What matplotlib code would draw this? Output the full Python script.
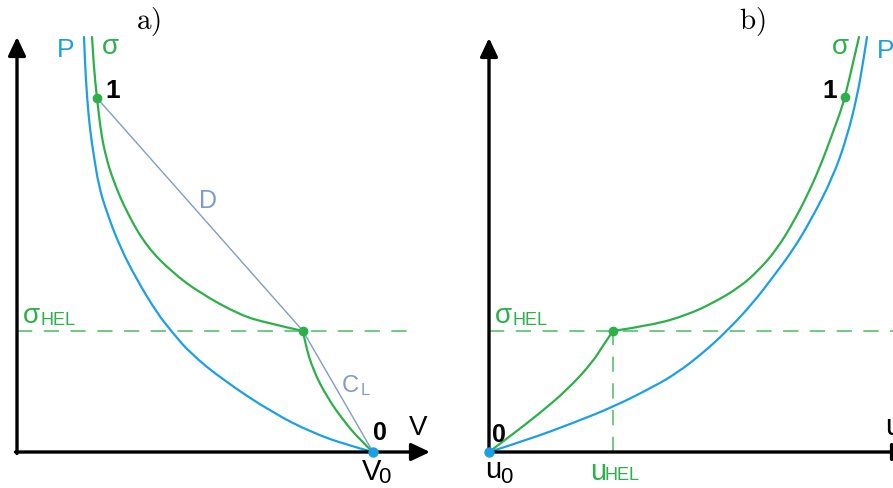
import matplotlib
matplotlib.use('Agg')
import matplotlib.pyplot as plt
from matplotlib.path import Path
from matplotlib.patches import PathPatch

plt.rcParams.update({
    'font.family': ['Liberation Sans', 'DejaVu Sans'],
    'mathtext.fontset': 'cm',
})

# ── colours ──────────────────────────────────────────────────────────────────
BLUE  = '#1ba0e6'
GREEN = '#2bb04a'
GREY  = '#7f9ccb'

# ── data (schematic; origin = axis corner) ───────────────────────────────────
# panel a) : stress vs specific volume
p_a_x     = [67, 68, 70, 73, 77, 82, 90, 103, 120, 140, 155, 173, 206, 256, 296, 330, 356]
p_a_y     = [415, 389, 355, 322, 295, 265, 239, 205, 172, 139, 120, 99, 72, 39, 19, 7, 0]
# plastic branch (point 1 down to HEL) and elastic precursor (HEL to 0)
sig_a_hi_x = [75, 77, 80, 84, 89, 96, 110, 130, 156, 183, 223, 250, 286]
sig_a_hi_y = [415, 382, 354, 319, 295, 272, 239, 205, 179, 159, 137, 129, 121]
sig_a_lo_x = [286, 288, 296, 310, 326, 343, 356]
sig_a_lo_y = [121, 109, 82, 55, 32, 12, 0]
pt1_a     = (80, 354)
hel_a     = (286, 121)
zero_a    = (356, 0)

# panel b) : stress vs particle velocity
p_b_x     = [0, 41, 84, 124, 164, 188, 214, 239, 264, 284, 304, 322, 344, 358, 368, 374, 378]
p_b_y     = [0, 13, 29, 45, 65, 79, 99, 122, 149, 175, 202, 232, 275, 315, 355, 389, 415]
sig_b_lo_x = [0, 24, 51, 78, 103, 115, 124]
sig_b_lo_y = [0, 18, 39, 62, 89, 108, 121]
sig_b_hi_x = [124, 164, 198, 224, 251, 270, 288, 304, 320, 333, 344, 351, 356, 364, 370]
sig_b_hi_y = [121, 127, 137, 149, 165, 182, 203, 229, 260, 290, 320, 339, 355, 389, 415]
pt1_b     = (356, 355)
hel_b     = (124, 121)
zero_b    = (0, 0)

sigma_hel = 121

# ── figure ───────────────────────────────────────────────────────────────────
fig = plt.figure(figsize=(8.93, 4.88), dpi=100)
ax_a = fig.add_axes([0, 0, 446 / 893, 1])
ax_b = fig.add_axes([446 / 893, 0, 447 / 893, 1])
ax_a.set_xlim(-17, 429)
ax_b.set_xlim(-43, 404)
for ax in (ax_a, ax_b):
    ax.set_ylim(-36, 452)
    ax.set_axis_off()

arrow = dict(arrowstyle='-|>,head_length=0.8,head_width=0.38', lw=2.4,
             color='black', mutation_scale=14, shrinkA=0, shrinkB=0)
dash = (0, (10, 7.5))


def smooth_curve(ax, xs, ys, color, lw=1.6):
    # quadratic bezier through the read points (points act as control points)
    pts = list(zip(xs, ys))
    verts, codes = [pts[0]], [Path.MOVETO]
    for i in range(1, len(pts) - 2):
        mid = ((pts[i][0] + pts[i + 1][0]) / 2, (pts[i][1] + pts[i + 1][1]) / 2)
        verts += [pts[i], mid]
        codes += [Path.CURVE3, Path.CURVE3]
    if len(pts) > 2:
        verts += [pts[-2], pts[-1]]
        codes += [Path.CURVE3, Path.CURVE3]
    else:
        verts.append(pts[-1])
        codes.append(Path.LINETO)
    ax.add_patch(PathPatch(Path(verts, codes), fc='none', ec=color, lw=lw,
                           capstyle='round', joinstyle='round'))


def axes_arrows(ax, x_tip, y_tip):
    ax.annotate('', xy=(0, y_tip), xytext=(0, -1.5), arrowprops=arrow,
                annotation_clip=False)
    ax.annotate('', xy=(x_tip, 0), xytext=(-1.5, 0), arrowprops=arrow,
                annotation_clip=False)


def hel_label(ax):
    ax.text(6, 129, 'σ', color=GREEN, fontsize=20, va='baseline')
    ax.text(23, 127, 'HEL', color=GREEN, fontsize=13, va='baseline')


# ── panel a ──────────────────────────────────────────────────────────────────
ax = ax_a
ax.plot([0, 398], [sigma_hel, sigma_hel], color=GREEN, lw=1.1, ls=dash, alpha=0.85)
ax.plot([pt1_a[0], hel_a[0]], [pt1_a[1], hel_a[1]], color=GREY, lw=1.0)
ax.plot([hel_a[0], zero_a[0]], [hel_a[1], zero_a[1]], color=GREY, lw=1.0)
smooth_curve(ax, p_a_x, p_a_y, BLUE)
smooth_curve(ax, sig_a_hi_x, sig_a_hi_y, GREEN)
smooth_curve(ax, sig_a_lo_x, sig_a_lo_y, GREEN)
ax.plot(*pt1_a, 'o', color=GREEN, ms=6)
ax.plot(*hel_a, 'o', color=GREEN, ms=6)
axes_arrows(ax, 413, 415)
ax.plot(*zero_a, 'o', color=BLUE, ms=6.5, zorder=5)

ax.text(131, 431, r'$\mathrm{a)}$', fontsize=21, ha='center', va='center')
ax.text(49, 395, 'P', color=BLUE, fontsize=19, ha='center', va='baseline')
ax.text(93, 398, 'σ', color=GREEN, fontsize=20, ha='center', va='baseline')
ax.text(88, 354, '1', fontsize=19, fontweight='bold', ha='left', va='baseline')
ax.text(191, 244, 'D', color=GREY, fontsize=18, ha='center', va='baseline')
ax.text(325, 60, 'C', color=GREY, fontsize=17, ha='left', va='baseline')
ax.text(344, 57, 'L', color=GREY, fontsize=12, ha='left', va='baseline')
ax.text(363, 12, '0', fontsize=18, fontweight='bold', ha='center', va='baseline')
ax.text(401, 17, 'V', fontsize=20, ha='center', va='baseline')
ax.text(345, -28, 'V', fontsize=21, ha='left', va='baseline')
ax.text(361, -31, '0', fontsize=16, ha='left', va='baseline')
hel_label(ax)

# ── panel b ──────────────────────────────────────────────────────────────────
ax = ax_b
ax.plot([0, 410], [sigma_hel, sigma_hel], color=GREEN, lw=1.1, ls=dash, alpha=0.85)
ax.plot([hel_b[0], hel_b[0]], [0, hel_b[1]], color=GREEN, lw=1.1, ls=dash, alpha=0.85)
smooth_curve(ax, p_b_x, p_b_y, BLUE)
smooth_curve(ax, sig_b_lo_x, sig_b_lo_y, GREEN)
smooth_curve(ax, sig_b_hi_x, sig_b_hi_y, GREEN)
ax.plot(*pt1_b, 'o', color=GREEN, ms=6)
ax.plot(*hel_b, 'o', color=GREEN, ms=6)
axes_arrows(ax, 422, 414)
ax.plot(*zero_b, 'o', color=BLUE, ms=6.5, zorder=5)

ax.text(263, 431, r'$\mathrm{b)}$', fontsize=21, ha='center', va='center')
ax.text(351, 398, 'σ', color=GREEN, fontsize=20, ha='center', va='baseline')
ax.text(388, 394, 'P', color=BLUE, fontsize=19, ha='left', va='baseline')
ax.text(348, 354, '1', fontsize=19, fontweight='bold', ha='right', va='baseline')
ax.text(3, 10, '0', fontsize=18, fontweight='bold', ha='left', va='baseline')
ax.text(-4, -26, 'u', fontsize=21, ha='left', va='baseline')
ax.text(11, -31, '0', fontsize=16, ha='left', va='baseline')
ax.text(101, -28, 'u', color=GREEN, fontsize=21, ha='left', va='baseline')
ax.text(116, -28, 'HEL', color=GREEN, fontsize=13, ha='left', va='baseline')
ax.text(396, 17, 'u', fontsize=21, ha='left', va='baseline')
hel_label(ax)

fig.savefig('out.png', dpi=100)
